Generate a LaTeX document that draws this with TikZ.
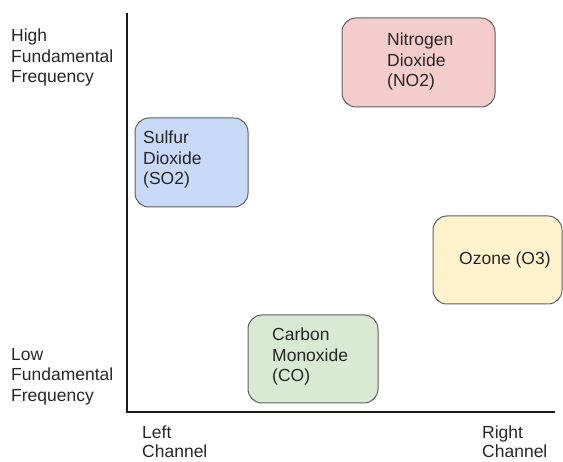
\documentclass[tikz,border=0pt]{standalone}
\usepackage{fontspec}
\setmainfont{Liberation Sans}
\definecolor{txt}{HTML}{262626}
\definecolor{edge}{HTML}{5F5F5F}
\definecolor{blueF}{HTML}{C9DAF8}
\definecolor{redF}{HTML}{F4CCCC}
\definecolor{yelF}{HTML}{FFF2CC}
\definecolor{greF}{HTML}{D9EAD3}
\begin{document}
\begin{tikzpicture}[x=1pt,y=-1pt,
  lbl/.style={anchor=north west,inner sep=0pt,align=left,text=txt,
    font=\fontsize{17.5}{20.5}\selectfont},
  chan/.style={lbl,font=\fontsize{17.5}{19}\selectfont},
  box/.style={draw=edge,line width=1pt,rounded corners=14pt}]
\useasboundingbox (0,0) rectangle (563,462);
% axes
\coordinate (top) at (127,13);
\coordinate (corner) at (127,412);
\coordinate (right) at (555,412);
\draw[line width=2.2pt,black!90] (top) -- (corner) -- (right);
% axis labels
\node[lbl] (hi) at (11,29) {High\\Fundamental\\Frequency};
\node[lbl] (lo) at (11,348) {Low\\Fundamental\\Frequency};
\node[chan] (lc) at (142,426) {Left\\Channel};
\node[chan] (rc) at (482,426) {Right\\Channel};
% boxes
\path[box,fill=blueF] (135,118) rectangle (248,207);
\node[lbl] (so2) at (143,131) {Sulfur\\Dioxide\\(SO2)};
\path[box,fill=redF] (342,18) rectangle (495,107);
\node[lbl] (no2) at (387,33) {Nitrogen\\Dioxide\\(NO2)};
\path[box,fill=yelF] (433,216) rectangle (562,304);
\node[lbl,anchor=west] (o3) at (459,260) {Ozone (O3)};
\path[box,fill=greF] (248,315) rectangle (378,403);
\node[lbl] (co) at (272,328) {Carbon\\Monoxide\\(CO)};
\end{tikzpicture}
\end{document}
